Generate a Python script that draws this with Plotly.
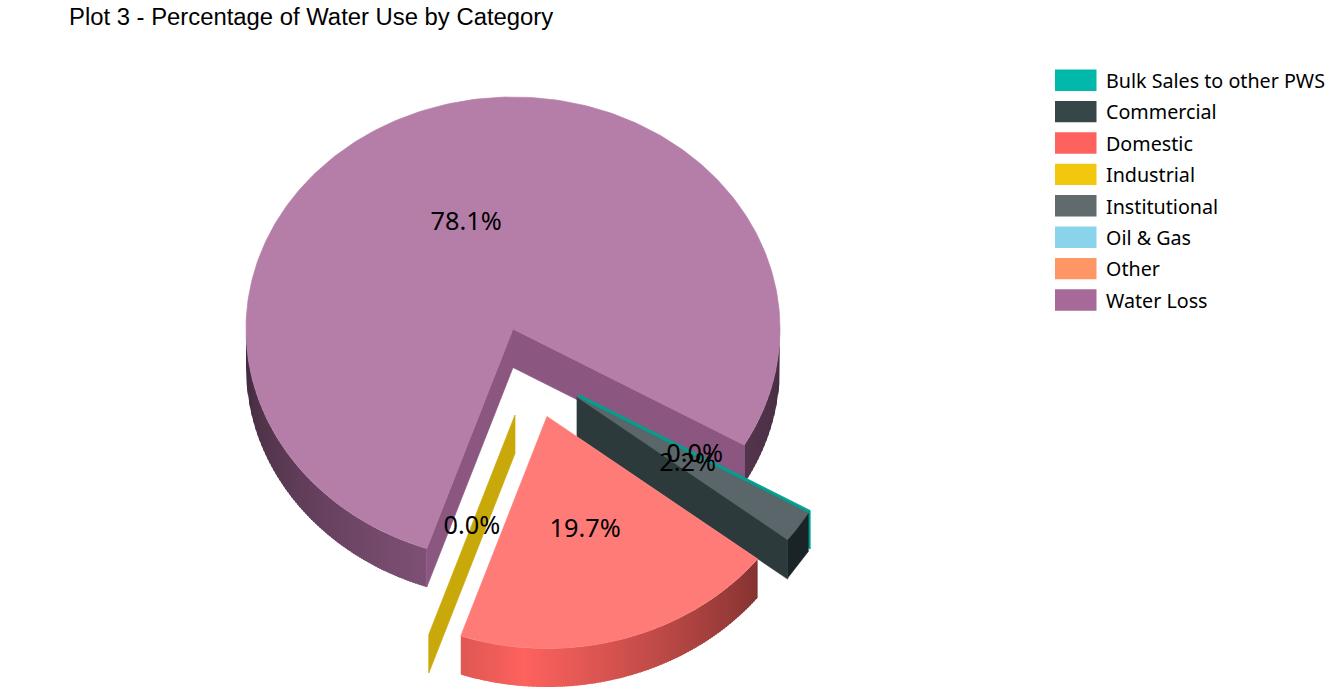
import math
import numpy as np
import plotly.graph_objects as go

# ---------- data ----------
categories = ["Bulk Sales to other PWS", "Commercial", "Domestic", "Industrial",
              "Institutional", "Oil & Gas", "Other", "Water Loss"]
percent = [0.0, 2.2, 19.7, 0.0, 0.0, 0.0, 0.0, 78.1]
shown_labels = [True, True, True, True, False, False, False, True]

# ---------- style ----------
base_colors = ["#01B8AA", "#374649", "#FD625E", "#F2C80F", "#5F6B6D", "#8AD4EB", "#FE9666", "#A66999"]
top_colors = {"Commercial": "#5A6669", "Domestic": "#FF7B78", "Water Loss": "#B57EA8"}
inner_colors = {"Bulk Sales to other PWS": "#00A08F", "Commercial": "#2D3A3B",
                "Industrial": "#C9A90A", "Water Loss": "#8B5680"}
cap_color = "#1A2426"
# wall brightness (angle, factor) measured clockwise from 3 o'clock
wall_shades = {
    "Domestic": ([37.8, 95, 108.8], [0.52, 1.0, 0.88]),
    "Water Loss": ([0, 30, 108.8, 180], [0.42, 0.5, 0.76, 0.38]),
}
explode_px = {"Bulk Sales to other PWS": (66, 65.5), "Commercial": (64, 68), "Domestic": (34, 87.5),
              "Industrial": (2, 86), "Water Loss": (0, 0)}

CX, CY = 513.0, 329.0
RX, RY = 267.0, 232.0
DEPTH = 38.5
START = 30.0
LABEL_DY = 3.0
W, H = 1330, 687
FONT = "Noto Sans"

fig = go.Figure()


def ell(cx, cy, deg):
    t = np.radians(deg)
    return cx + RX * np.cos(t), cy + RY * np.sin(t)


def poly(xs, ys, color, lw=0.7):
    fig.add_trace(go.Scatter(
        x=list(xs) + [xs[0]], y=list(ys) + [ys[0]], mode="lines", fill="toself", fillcolor=color,
        line=dict(color=color, width=lw), hoverinfo="skip", showlegend=False))


def scale(hex_color, f):
    r, g, b = (int(hex_color[i:i + 2], 16) for i in (1, 3, 5))
    return "#%02x%02x%02x" % (round(r * f), round(g * f), round(b * f))


# slice angle spans from the values
spans = {}
a = START
for name, v in zip(categories, percent):
    spans[name] = (a, a + v * 3.6)
    a += v * 3.6


def wall(name):
    a0, a1 = spans[name]
    ox, oy = explode_px[name]
    cx, cy = CX + ox, CY + oy
    base = base_colors[categories.index(name)]
    knots = wall_shades[name]
    ranges = [(max(a0, 0), min(a1, 180))]
    if a1 > 360:
        ranges.append((0, a1 - 360))
    for lo, hi in ranges:
        # bands with whole-pixel vertical edges, so no seams show between them
        xl = cx + RX * math.cos(math.radians(hi))
        xr = cx + RX * math.cos(math.radians(lo))
        edges = [xl] + list(range(math.ceil(xl) + 1, math.floor(xr), 2)) + [xr]
        for e0, e1 in zip(edges[:-1], edges[1:]):
            bx = np.linspace(e0, min(e1 + 1, xr), 4)
            by = cy + RY * np.sqrt(np.clip(1 - ((bx - cx) / RX) ** 2, 0, 1))
            mid = math.degrees(math.acos(max(-1, min(1, ((e0 + e1) / 2 - cx) / RX))))
            f = float(np.interp(mid, knots[0], knots[1]))
            poly(list(bx) + list(bx[::-1]), list(by) + list(by[::-1] + DEPTH), scale(base, f), lw=0)


def radial(name, deg, color, depth=DEPTH):
    ox, oy = explode_px[name]
    cx, cy = CX + ox, CY + oy
    x, y = ell(cx, cy, deg)
    poly([cx, float(x), float(x), cx], [cy, float(y), float(y) + depth, cy + depth], color)


def top(name):
    a0, a1 = spans[name]
    ox, oy = explode_px[name]
    cx, cy = CX + ox, CY + oy
    x, y = ell(cx, cy, np.linspace(a0, a1, max(3, int(a1 - a0) + 2)))
    poly([cx] + list(x), [cy] + list(y), top_colors[name])


# back to front
wall("Water Loss")
radial("Water Loss", spans["Water Loss"][1], inner_colors["Water Loss"])
radial("Water Loss", spans["Water Loss"][0], inner_colors["Water Loss"])
top("Water Loss")

radial("Bulk Sales to other PWS", spans["Bulk Sales to other PWS"][0], inner_colors["Bulk Sales to other PWS"])

x, y = ell(CX + explode_px["Commercial"][0], CY + explode_px["Commercial"][1],
           np.array(spans["Commercial"]))
poly([x[0], x[1], x[1], x[0]], [y[0], y[1], y[1] + DEPTH, y[0] + DEPTH], cap_color)
radial("Commercial", spans["Commercial"][1], inner_colors["Commercial"], depth=DEPTH + 1)
top("Commercial")

wall("Domestic")
top("Domestic")

radial("Industrial", spans["Industrial"][0], inner_colors["Industrial"])

# percentage labels, half way along each slice's mid radius
lx, ly, lt = [], [], []
for name, v, s in zip(categories, percent, shown_labels):
    if not s:
        continue
    a0, a1 = spans[name]
    ox, oy = explode_px[name]
    px, py = ell(CX + ox, CY + oy, (a0 + a1) / 2)
    lx.append((CX + ox + float(px)) / 2)
    ly.append((CY + oy + float(py)) / 2 + LABEL_DY)
    lt.append(f"{v:.1f}%")
fig.add_trace(go.Scatter(x=lx, y=ly, text=lt, mode="text", textposition="middle center",
                         textfont=dict(family=FONT, size=25.3, color="#000000"),
                         hoverinfo="skip", showlegend=False))

# legend entries; the dash trims the key to the reference's key width
for name, c in zip(categories, base_colors):
    fig.add_trace(go.Scatter(x=[None], y=[None], mode="lines", name=name, legendgroup=name,
                             line=dict(color=c, width=10, dash="41px,100px"), hoverinfo="skip"))

# the legend's keys are capped in height, so a taller block sits behind each one
shapes = []
for i, c in enumerate(base_colors):
    yc = 80.2 + 31.4 * i
    shapes.append(dict(type="rect", xref="x", yref="y", x0=1055, x1=1096.5, y0=yc - 10.7, y1=yc + 10.7,
                       fillcolor=c, line=dict(width=0), layer="above"))

fig.update_layout(
    width=W, height=H, margin=dict(l=0, r=0, t=0, b=0),
    paper_bgcolor="#ffffff", plot_bgcolor="#ffffff", shapes=shapes,
    title=dict(text="Plot 3 - Percentage of Water Use by Category", x=69 / W, xanchor="left",
               y=1 - 17 / H, yanchor="middle", xref="paper", yref="paper",
               font=dict(family="Liberation Sans", size=23.85, color="#000000")),
    xaxis=dict(range=[0, W], visible=False, fixedrange=True),
    yaxis=dict(range=[H, 0], visible=False, fixedrange=True),
    legend=dict(x=1050 / W, y=1 - 61 / H, xanchor="left", yanchor="top",
                itemwidth=46, tracegroupgap=2.8, font=dict(family=FONT, size=19.7, color="#000000"),
                bgcolor="rgba(0,0,0,0)", itemclick=False, itemdoubleclick=False),
)
fig.write_html("out.html", config={"displayModeBar": False},
               post_script="document.documentElement.style.overflow='hidden';document.body.style.margin='0';")
